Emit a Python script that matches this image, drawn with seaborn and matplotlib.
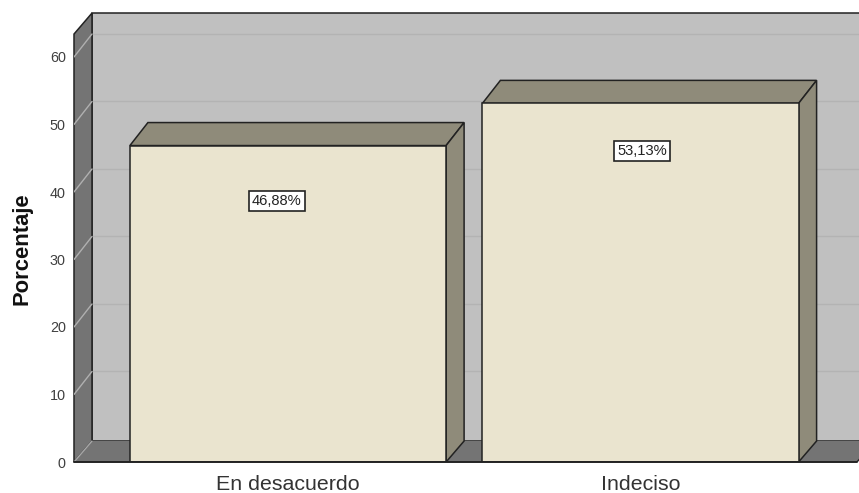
import matplotlib
matplotlib.use("Agg")
import pandas as pd
import seaborn as sns
import matplotlib.pyplot as plt
from matplotlib.patches import Polygon

categories = ['En desacuerdo', 'Indeciso']
percentages = [46.88, 53.13]
value_labels = ['46,88%', '53,13%']
y_ticks = [0, 10, 20, 30, 40, 50, 60]

sns.set_style("white")
plt.rcParams['font.family'] = ['Liberation Sans', 'DejaVu Sans']

W, H = 859, 493
fig = plt.figure(figsize=(W / 100, H / 100), dpi=100)
# axes: pixels 74..859 across, baseline at pixel row 462 up to the top edge
ax = fig.add_axes([74 / W, (H - 462) / H, (W - 74) / W, 462 / H])

df = pd.DataFrame({'cat': categories, 'pct': percentages})
sns.barplot(data=df, x='cat', y='pct', color='#EAE4CF', saturation=1, width=0.897,
            edgecolor='#222222', linewidth=1.1, ax=ax, zorder=5)

# scale: 352.5 px between categories, 6.75 px per percent
PX_X = 352.5
PX_Y = 6.75
ax.set_xlim((74 - 288) / PX_X, (859 - 288) / PX_X)
ax.set_ylim(0, 462 / PX_Y)
x0, x1 = ax.get_xlim()

dx = 18 / PX_X
dy = 21 / PX_Y
bar_dy = 23 / PX_Y
wall_top = 63.4
right = (857 - 288) / PX_X

edge = '#222222'
# back wall, side wall, floor
ax.add_patch(Polygon([(x0 + dx, dy), (x1 + 1, dy), (x1 + 1, wall_top + dy), (x0 + dx, wall_top + dy)],
                     fc='#C0C0C0', ec=edge, lw=1.1, zorder=1))
ax.add_patch(Polygon([(x0, 0), (x0 + dx, dy), (x0 + dx, wall_top + dy), (x0, wall_top)],
                     fc='#747474', ec=edge, lw=1.1, zorder=2, clip_on=False))
ax.add_patch(Polygon([(x0, 0), (right, 0), (right + dx, dy), (x0 + dx, dy)],
                     fc='#747474', ec='none', zorder=2, clip_on=False))
ax.plot([x0, x0 + dx], [0, dy], color='#A8A8A8', lw=1, zorder=3)
ax.plot([right, right + dx], [0, dy], color=edge, lw=1, zorder=3)
ax.plot([x0, right], [0, 0], color=edge, lw=1.4, zorder=8, clip_on=False)

# grid lines on both walls
for t in y_ticks[1:]:
    ax.plot([x0, x0 + dx], [t, t + dy + 0.3], color='#B0B0B0', lw=1, zorder=3)
    ax.plot([x0 + dx, x1 + 1], [t + dy + 0.3, t + dy + 0.3], color='#B3B3B3', lw=1, zorder=1.5)

# 3d faces of each bar, and the value boxes
label_offsets = [(-11, -55), (1.5, -48)]
for bar, txt, off in zip(ax.containers[0], value_labels, label_offsets):
    bx, bw, bh = bar.get_x(), bar.get_width(), bar.get_height()
    ax.add_patch(Polygon([(bx, bh), (bx + bw, bh), (bx + bw + dx, bh + bar_dy), (bx + dx, bh + bar_dy)],
                         fc='#8F8B7A', ec=edge, lw=1.1, zorder=4))
    ax.add_patch(Polygon([(bx + bw, 0), (bx + bw + dx, dy), (bx + bw + dx, bh + bar_dy), (bx + bw, bh)],
                         fc='#8F8B7A', ec=edge, lw=1.1, zorder=4))
    ax.annotate(txt, (bx + bw / 2, bh), xytext=off, textcoords='offset pixels',
                ha='center', va='center', fontsize=10.6, color='#222222', zorder=9,
                bbox=dict(boxstyle='square,pad=0.2', fc='white', ec='#222222', lw=1.2))

sns.despine(ax=ax, left=True, bottom=True, right=True, top=True)
ax.set_yticks(y_ticks)
ax.set_yticklabels([str(t) for t in y_ticks], fontsize=10.4, color='#404040')
ax.tick_params(axis='both', length=0)
ax.tick_params(axis='y', pad=6)
ax.tick_params(axis='x', pad=9.5, labelsize=15.4, labelcolor='#333333')
ax.set_xlabel('')
ax.set_ylabel('Porcentaje', fontsize=15.8, fontweight='bold', color='#111111')
ax.yaxis.set_label_coords(-41 / (W - 74), 0.461)

fig.savefig('out.png', dpi=100)
